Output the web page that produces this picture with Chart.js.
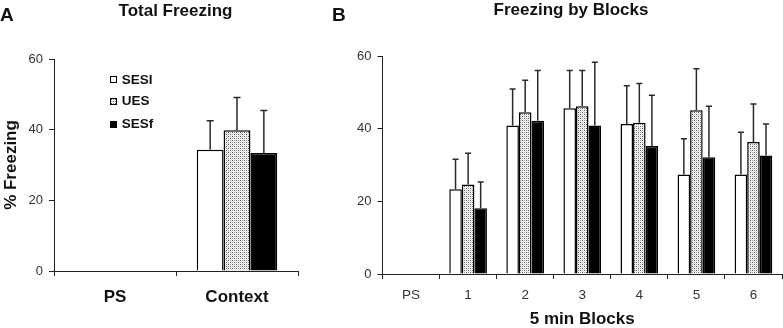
<!DOCTYPE html>
<html><head><meta charset="utf-8">
<script src="https://cdn.jsdelivr.net/npm/chart.js@4"></script>
<style>
body{margin:0;background:#fff;width:783px;height:328px;overflow:hidden;position:relative;font-family:'Liberation Sans',Arial,sans-serif;}
.t{position:absolute;font-weight:bold;color:#111;white-space:nowrap;line-height:normal;}
.c{transform:translateX(-50%);}
canvas{position:absolute;top:0;}
.lb{position:absolute;width:7px;height:7px;border:1px solid #000;box-sizing:border-box;left:110px;}
</style></head><body>
<canvas id="ca" width="300" height="328" style="left:0"></canvas>
<canvas id="cb" width="453" height="328" style="left:330px"></canvas>
<div class="t" style="left:0px;top:4.4px;font-size:19px">A</div>
<div class="t" style="left:332px;top:4.4px;font-size:19px">B</div>
<div class="t c" style="left:175.5px;top:0.8px;font-size:17px">Total Freezing</div>
<div class="t c" style="left:571px;top:-0.5px;font-size:17px">Freezing by Blocks</div>
<div class="lb" id="lb1" style="top:76.3px;background:#fff"></div>
<div class="lb" id="lb2" style="top:98px"></div>
<div class="lb" id="lb3" style="top:120.6px;background:#000"></div>
<div class="t" style="left:121.7px;top:71.5px;font-size:13.5px">SESI</div>
<div class="t" style="left:121.7px;top:93.1px;font-size:13.5px">UES</div>
<div class="t" style="left:121.7px;top:115.8px;font-size:13.5px">SESf</div>
<script>
// ---- data ----
const seriesNames = ['SESI', 'UES', 'SESf'];
const yTicks = [0, 20, 40, 60];

const catsA = ['PS', 'Context'];
const sesiA = [null, 34.3];
const uesA  = [null, 39.8];
const sesfA = [null, 33.4];
const sesiAErr = [null, 8.2];
const uesAErr  = [null, 9.3];
const sesfAErr = [null, 12.0];

const catsB = ['PS', '1', '2', '3', '4', '5', '6'];
const sesiB = [null, 23.3, 40.9, 45.6, 41.3, 27.4, 27.4];
const uesB  = [null, 24.6, 44.5, 46.2, 41.6, 45.1, 36.3];
const sesfB = [null, 18.1, 42.2, 40.9, 35.2, 32.1, 32.6];
const sesiBErr = [null, 8.3, 10.0, 10.4, 10.5, 9.8, 11.6];
const uesBErr  = [null, 8.6, 8.8, 9.8, 10.8, 11.4, 10.5];
const sesfBErr = [null, 7.2, 13.8, 17.4, 14.0, 14.1, 8.7];

// ---- pattern ----
const tile = document.createElement('canvas');
tile.width = 4; tile.height = 4;
const tc = tile.getContext('2d');
tc.fillStyle = '#fff'; tc.fillRect(0,0,4,4);
tc.fillStyle = '#555'; tc.fillRect(0,0,1,1); tc.fillRect(2,2,1,1);
tc.fillStyle = '#999'; tc.fillRect(2,0,1,1); tc.fillRect(0,2,1,1);
tc.fillStyle = '#dcdcdc'; tc.fillRect(1,1,1,1); tc.fillRect(3,3,1,1); tc.fillRect(1,3,1,1); tc.fillRect(3,1,1,1);
document.getElementById('lb2').style.background = 'url(' + tile.toDataURL() + ')';

Chart.defaults.font.family = "'Liberation Sans', Arial, sans-serif";
Chart.defaults.color = '#222';

function errPlugin(errs, cap) {
  return {
    id: 'errbars',
    afterDatasetsDraw(chart) {
      const ctx = chart.ctx, y = chart.scales.y;
      chart.data.datasets.forEach((ds, di) => {
        const meta = chart.getDatasetMeta(di);
        meta.data.forEach((bar, i) => {
          const v = ds.data[i], e = errs[di][i];
          if (v == null || e == null) return;
          const yTop = y.getPixelForValue(v + e);
          ctx.save();
          ctx.strokeStyle = '#2a2a2a';
          ctx.lineWidth = 1.5;
          ctx.beginPath();
          ctx.moveTo(bar.x, bar.y);
          ctx.lineTo(bar.x, yTop);
          ctx.moveTo(bar.x - cap, yTop);
          ctx.lineTo(bar.x + cap, yTop);
          ctx.stroke();
          ctx.restore();
        });
      });
    }
  };
}

function makeChart(id, cats, vals, errs, cfg) {
  const pat = document.getElementById(id).getContext('2d').createPattern(tile, 'repeat');
  const fills = ['#ffffff', pat, '#000000'];
  return new Chart(document.getElementById(id), {
    type: 'bar',
    data: {
      labels: cats,
      datasets: vals.map((v, i) => ({
        label: seriesNames[i],
        data: v,
        backgroundColor: fills[i],
        borderColor: '#000',
        borderWidth: 1.5,
        barPercentage: 1,
        categoryPercentage: 0.66
      }))
    },
    options: {
      responsive: false,
      animation: false,
      layout: { padding: { top: cfg.top, right: cfg.right, left: 0, bottom: 0 } },
      plugins: { legend: { display: false }, title: { display: false }, tooltip: { enabled: false } },
      scales: {
        x: {
          grid: { display: true, drawOnChartArea: false, drawTicks: true, tickLength: 5, color: '#222', offset: true },
          border: { display: true, color: '#222', width: 1 },
          ticks: { font: cfg.xFont, color: cfg.xColor, padding: cfg.xPad, maxRotation: 0, autoSkip: false },
          title: cfg.xTitle,
          afterFit: s => { s.height = cfg.xH; }
        },
        y: {
          min: 0, max: 60,
          afterBuildTicks: s => { s.ticks = yTicks.map(v => ({ value: v })); },
          grid: { display: true, drawOnChartArea: false, drawTicks: true, tickLength: 5, color: '#222' },
          border: { display: true, color: '#222', width: 1 },
          ticks: { font: { size: 13 }, color: '#333', padding: 6 },
          title: cfg.yTitle,
          afterFit: s => { s.width = cfg.yW; }
        }
      }
    },
    plugins: [errPlugin(errs, cfg.cap)]
  });
}

makeChart('ca', catsA, [sesiA, uesA, sesfA], [sesiAErr, uesAErr, sesfAErr], {
  top: 59, right: 2, xH: 57, yW: 54, cap: 3.5,
  xFont: { size: 17, weight: 'bold' }, xColor: '#111', xPad: 11,
  xTitle: { display: false },
  yTitle: { display: true, text: '% Freezing', font: { size: 17, weight: 'bold' }, color: '#111', padding: { top: 1, bottom: 0 } }
});

makeChart('cb', catsB, [sesiB, uesB, sesfB], [sesiBErr, uesBErr, sesfBErr], {
  top: 56, right: 1, xH: 54, yW: 52.5, cap: 3,
  xFont: { size: 13.5 }, xColor: '#333', xPad: 8,
  xTitle: { display: true, text: '5 min Blocks', font: { size: 17, weight: 'bold' }, color: '#111', padding: { top: 0, bottom: -2 } },
  yTitle: { display: false }
});
</script>
</body></html>
